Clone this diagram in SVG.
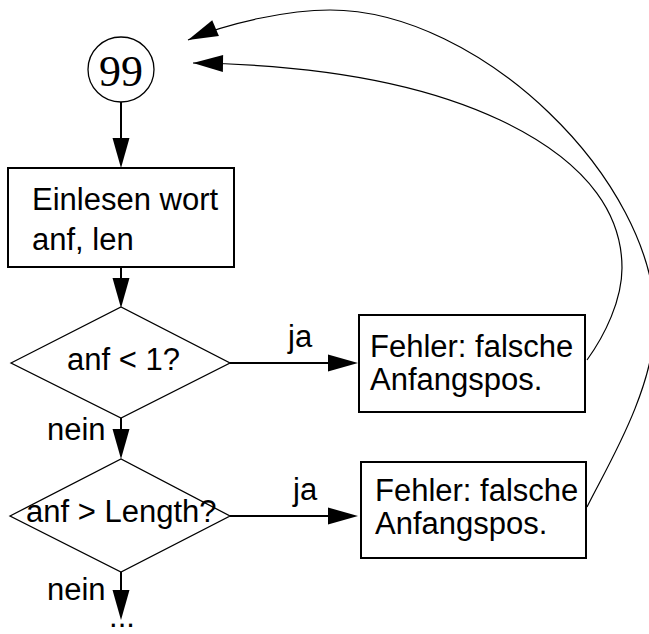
<svg xmlns="http://www.w3.org/2000/svg" width="649" height="634" viewBox="0 0 649 634">
  <style>
    .box { fill: #fff; stroke: #000; stroke-width: 2; }
    .dia { fill: #fff; stroke: #000; stroke-width: 1.3; }
    .lbl { font-family: "Liberation Sans", Arial, sans-serif; font-size: 31px; fill: #000; }
    .num { font-family: "Liberation Serif", "Times New Roman", serif; font-size: 44px; fill: #000; }
    .flow { fill: none; stroke: #000; stroke-width: 2; }
    .loop { fill: none; stroke: #000; stroke-width: 1.2; }
  </style>
  <defs>
    <!-- filled arrowhead, base at the line end -->
    <marker id="head" markerUnits="userSpaceOnUse" viewBox="0 -9 30 18" markerWidth="30" markerHeight="18" refX="0" refY="0" orient="auto" overflow="visible">
      <path d="M0,-8.5 L30,0 L0,8.5 Z" fill="#000"/>
    </marker>
    <!-- filled arrowhead, tip at the path end -->
    <marker id="tip" markerUnits="userSpaceOnUse" viewBox="0 -9 30 18" markerWidth="30" markerHeight="18" refX="30" refY="0" orient="auto" overflow="visible">
      <path d="M0,-8.5 L30,0 L0,8.5 Z" fill="#000"/>
    </marker>
  </defs>

  <g id="connectors">
    <line class="flow" x1="121" y1="102" x2="121" y2="138" marker-end="url(#head)"/>
    <line class="flow" x1="121" y1="267" x2="121" y2="278" marker-end="url(#head)"/>
    <line class="flow" x1="230" y1="363" x2="328" y2="363" marker-end="url(#head)"/>
    <line class="flow" x1="121" y1="418" x2="121" y2="429" marker-end="url(#head)"/>
    <line class="flow" x1="230" y1="516" x2="328" y2="516" marker-end="url(#head)"/>
    <line class="flow" x1="121" y1="572" x2="121" y2="590" marker-end="url(#head)"/>
    <!-- return from the second error box -->
    <path class="loop" d="M587,507 C605,470 655,390 655,320 C655,180 480,10 330,10 C290,10 230,22 188,40" marker-end="url(#tip)"/>
    <!-- return from the first error box -->
    <path class="loop" d="M587,360 C605,335 622,300 622,268 C622,220 595,165 500,120 C430,87 330,65 193,63" marker-end="url(#tip)"/>
  </g>

  <g id="start">
    <ellipse cx="121" cy="69.5" rx="33" ry="32.5" fill="#fff" stroke="#000" stroke-width="1.3"/>
    <text class="num" x="121" y="86" text-anchor="middle">99</text>
  </g>

  <g id="read">
    <rect class="box" x="8" y="168" width="226" height="99"/>
    <text class="lbl" x="32" y="210">Einlesen wort</text>
    <text class="lbl" x="32" y="250">anf, len</text>
  </g>

  <g id="check1">
    <polygon class="dia" points="11,363 121,307 230,363 121,418"/>
    <text class="lbl" x="67" y="370">anf &lt; 1?</text>
  </g>

  <g id="error1">
    <rect class="box" x="359" y="315" width="226" height="97"/>
    <text class="lbl" x="370" y="357">Fehler: falsche</text>
    <text class="lbl" x="370" y="390">Anfangspos.</text>
  </g>

  <g id="check2">
    <polygon class="dia" points="10,516 121,459 230,516 121,572"/>
    <text class="lbl" x="26" y="522">anf &gt; Length?</text>
  </g>

  <g id="error2">
    <rect class="box" x="361" y="462" width="225" height="96"/>
    <text class="lbl" x="375" y="501">Fehler: falsche</text>
    <text class="lbl" x="375" y="534">Anfangspos.</text>
  </g>

  <g id="labels">
    <text class="lbl" x="288" y="347">ja</text>
    <text class="lbl" x="293" y="500">ja</text>
    <text class="lbl" x="47" y="440">nein</text>
    <text class="lbl" x="47" y="600">nein</text>
    <text class="lbl" x="122" y="627" text-anchor="middle">...</text>
  </g>
</svg>
